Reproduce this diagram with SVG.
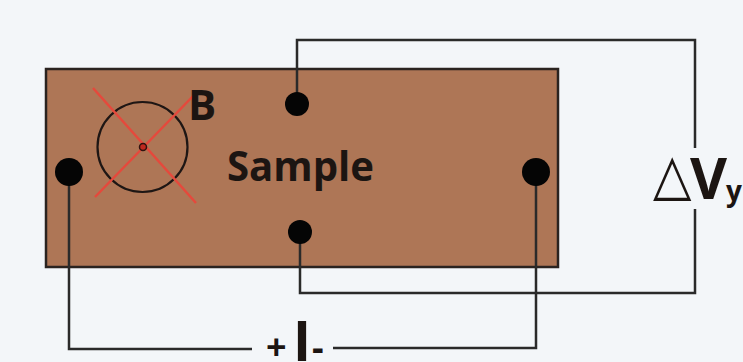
<svg xmlns="http://www.w3.org/2000/svg" width="743" height="362" viewBox="0 0 743 362">
<style>
.w{fill:none;stroke:#2a2a2a;stroke-width:2.5}
.d{fill:#050505}
.r{stroke:#e5493c;stroke-width:2.5;fill:none}
text{font-family:"Open Sans","Noto Sans","DejaVu Sans",sans-serif;font-weight:700;fill:#1c1512}
</style>
<rect width="743" height="362" fill="#f3f6f9"/>
<g id="sample">
<rect x="46" y="69" width="512" height="198" fill="#ae7656" stroke="#2a2320" stroke-width="2.5"/>
<text x="227" y="181" font-size="42" textLength="147" lengthAdjust="spacingAndGlyphs">Sample</text>
</g>
<g id="field">
<circle cx="142.500" cy="147" r="45" fill="none" stroke="#1e1614" stroke-width="2.2"/>
<path class="r" d="M93 88L196 203M95 197L197 92"/>
<circle cx="143" cy="147" r="3.500" fill="#c0281e" stroke="#30120e" stroke-width="1.500"/>
<text x="188" y="120" font-size="42">B</text>
</g>
<g id="connectors">
<path class="w" d="M297 104V40H695V148"/>
<path class="w" d="M695 209V293H300V232"/>
<path class="w" d="M69 172V349H252"/>
<path class="w" d="M536 172V348H333"/>
</g>
<g id="contact-top"><circle class="d" cx="297" cy="104" r="12"/></g>
<g id="contact-bottom"><circle class="d" cx="300" cy="232" r="12"/></g>
<g id="contact-left"><circle class="d" cx="69" cy="172" r="14"/></g>
<g id="contact-right"><circle class="d" cx="536" cy="172" r="14"/></g>
<g id="voltage-label">
<text transform="translate(653 194) scale(1 1.14)" font-size="50" style="font-family:'DejaVu Sans',sans-serif;font-weight:400">△</text>
<text x="690" y="199" font-size="57">V</text>
<text x="726" y="201" font-size="28">y</text>
</g>
<g id="current-label">
<text x="266" y="360" font-size="36">+</text>
<text x="293" y="361" font-size="56" textLength="18" lengthAdjust="spacingAndGlyphs">I</text>
<text x="312" y="360" font-size="36">-</text>
</g>
</svg>
